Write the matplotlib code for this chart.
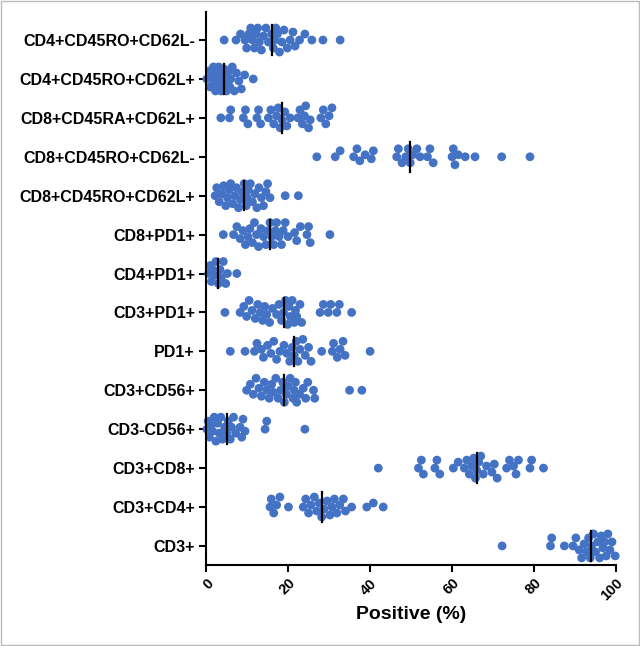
import matplotlib
import numpy as np

matplotlib.use("Agg")
import matplotlib.pyplot as plt
from matplotlib.patches import Rectangle


CATEGORIES = [
    "CD4+CD45RO+CD62L-",
    "CD4+CD45RO+CD62L+",
    "CD8+CD45RA+CD62L+",
    "CD8+CD45RO+CD62L-",
    "CD8+CD45RO+CD62L+",
    "CD8+PD1+",
    "CD4+PD1+",
    "CD3+PD1+",
    "PD1+",
    "CD3+CD56+",
    "CD3-CD56+",
    "CD3+CD8+",
    "CD3+CD4+",
    "CD3+",
]

cd4_ro_62l_neg = [4.4, 7.3, 8.4, 9.5, 9.9, 10.4, 10.9, 11.3, 11.8, 12.2, 12.6, 13.0, 13.5, 14.0, 14.6, 15.2,
                  16.0, 16.4, 16.8, 17.0, 17.4, 17.9, 18.5, 19.0, 19.8, 20.5, 21.2, 21.7, 22.8, 24.1, 25.8, 28.5, 32.7]
cd4_ro_62l_pos = [0.2, 0.8, 1.0, 1.5, 1.8, 2.0, 2.3, 2.6, 2.9, 3.1, 3.4, 3.7, 4.0, 4.2, 4.4,
                  4.7, 4.9, 5.0, 5.3, 5.6, 5.8, 6.0, 6.4, 6.9, 7.4, 8.0, 8.6, 9.4, 11.5]
cd8_ra_62l_pos = [3.6, 5.7, 6.0, 9.1, 9.6, 10.2, 12.4, 12.8, 13.3, 15.2, 15.8, 16.5, 17.2, 17.6, 18.1, 18.5,
                  19.2, 19.7, 20.5, 22.4, 22.9, 23.5, 24.0, 24.3, 25.0, 25.4, 28.0, 28.6, 29.2, 30.0, 30.7]
cd8_ro_62l_neg = [27.0, 31.5, 32.7, 36.0, 36.8, 37.5, 38.8, 40.3, 40.8, 46.5, 46.9, 47.8, 48.7, 49.3, 49.8,
                  50.4, 51.4, 52.2, 54.0, 54.6, 55.4, 60.0, 60.3, 60.7, 61.5, 63.2, 65.6, 72.1, 79.0]
cd8_ro_62l_pos = [2.2, 2.6, 3.2, 3.8, 4.3, 4.8, 5.2, 5.6, 6.0, 6.5, 7.0, 7.4, 7.9, 8.4, 8.8, 9.3,
                  9.8, 10.0, 10.3, 10.8, 11.3, 11.9, 12.4, 12.9, 13.5, 14.0, 14.6, 15.0, 15.6, 19.3, 22.5]
cd8_pd1 = [4.2, 6.7, 7.5, 8.3, 9.0, 9.6, 10.2, 10.7, 11.3, 11.8, 12.3, 12.8, 13.4, 14.0, 14.6, 15.1, 15.6,
           16.0, 16.5, 16.9, 17.2, 17.8, 18.4, 18.8, 19.3, 20.0, 21.6, 22.1, 23.0, 24.6, 25.0, 25.4, 30.2]
cd4_pd1 = [0.6, 1.0, 1.3, 1.6, 2.0, 2.4, 3.0, 3.4, 3.7, 4.2, 4.8, 5.2, 7.5]
cd3_pd1 = [4.6, 8.3, 9.2, 9.9, 10.5, 11.2, 12.0, 12.6, 13.2, 13.8, 14.3, 14.8, 15.5, 16.2, 17.2, 17.8, 18.4,
           18.9, 19.4, 19.9, 20.2, 20.5, 21.0, 21.5, 21.8, 22.1, 22.9, 23.3, 27.8, 28.6, 29.8, 30.4, 31.9,
           32.5, 35.5]
pd1 = [5.9, 9.5, 11.8, 12.4, 13.5, 14.0, 15.0, 15.8, 16.5, 17.2, 18.0, 19.0, 19.7, 20.4, 21.0, 21.5,
       22.0, 22.4, 22.9, 23.6, 24.2, 25.0, 25.6, 28.2, 30.8, 31.1, 32.0, 32.7, 33.4, 33.9, 40.0]
cd3_cd56 = [9.9, 10.8, 11.5, 12.2, 12.9, 13.5, 14.2, 14.8, 15.4, 16.0, 16.4, 17.0, 17.6, 18.2, 18.7, 19.1,
            19.6, 20.0, 20.5, 21.2, 21.5, 21.8, 22.1, 22.8, 23.7, 24.3, 24.8, 26.2, 26.5, 35.0, 38.0]
cd3neg_cd56 = [0.2, 0.5, 0.8, 1.2, 1.6, 2.0, 2.4, 2.8, 3.2, 3.6, 4.0, 4.5, 5.0,
               5.4, 5.9, 6.2, 6.7, 7.2, 8.3, 8.7, 9.0, 9.5, 14.4, 14.8, 24.1]
cd3_cd8 = [42.0, 51.8, 52.5, 53.0, 55.8, 56.3, 57.0, 60.3, 61.5, 63.0, 63.6, 64.2, 64.8, 65.3, 65.7, 66.0,
           66.5, 67.0, 67.6, 68.4, 69.7, 70.3, 71.0, 73.3, 74.0, 75.0, 75.6, 76.2, 79.0, 79.4, 82.3]
cd3_cd4 = [15.6, 15.9, 16.5, 17.2, 18.0, 20.1, 23.7, 24.3, 25.0, 25.6, 26.4, 27.0, 27.6, 28.2,
           28.8, 29.5, 30.2, 30.7, 31.3, 31.9, 32.6, 33.5, 34.0, 35.5, 39.2, 40.8, 43.2]
cd3 = [72.2, 84.0, 84.3, 87.4, 89.5, 90.2, 91.0, 91.6, 92.2, 92.8, 93.3, 93.7, 94.0,
       94.5, 95.0, 95.5, 96.0, 96.4, 96.8, 97.2, 97.6, 98.0, 98.5, 99.0, 99.8]

SERIES = [
    cd4_ro_62l_neg, cd4_ro_62l_pos, cd8_ra_62l_pos, cd8_ro_62l_neg, cd8_ro_62l_pos, cd8_pd1, cd4_pd1,
    cd3_pd1, pd1, cd3_cd56, cd3neg_cd56, cd3_cd8, cd3_cd4, cd3,
]

X_TICKS = [0, 20, 40, 60, 80, 100]

POINT_COLOR = "#4472C4"
PX_PER_X = 4.1    # pixels per x unit
PX_PER_Y = 38.9   # pixels per category row


def swarm_offsets(values, min_dist=7.0, step=2.0, max_off=12.0):
    """Simple beeswarm: place points in pixel space, return vertical offsets in data units."""
    placed = []
    offsets = []
    cands = [0.0]
    k = 1
    while k * step <= max_off:
        cands += [k * step, -k * step]
        k += 1
    for v in values:
        px = v * PX_PER_X
        best, best_d = 0.0, -1.0
        for c in cands:
            d = min((np.hypot(px - qx, c - qy) for qx, qy in placed), default=1e9)
            if d >= min_dist:
                best = c
                break
            if d > best_d:
                best, best_d = c, d
        placed.append((px, best))
        offsets.append(best / PX_PER_Y)
    return np.array(offsets)


def main() -> None:
    plt.rcParams["font.family"] = ["Liberation Sans", "DejaVu Sans"]
    plt.rcParams["font.weight"] = "bold"

    fig = plt.figure(figsize=(6.4, 6.46), dpi=100)
    fig.patches.append(Rectangle((0.002, 0.002), 0.996, 0.996, transform=fig.transFigure,
                                 fill=False, edgecolor="#BBBBBB", linewidth=1.0))
    ax = fig.add_axes([0.322, 0.1254, 0.6406, 0.856])

    n = len(CATEGORIES)
    for i, vals in enumerate(SERIES):
        y0 = n - 1 - i
        vals = np.asarray(vals)
        offs = swarm_offsets(vals)
        ax.scatter(vals, y0 + offs, s=40, color=POINT_COLOR, edgecolors="none", zorder=2, clip_on=False)
        med = np.median(vals)
        ax.plot([med, med], [y0 - 0.38, y0 + 0.38], color="black", linewidth=1.6, zorder=3)

    ax.set_xlim(0, 100)
    ax.set_ylim(-0.49, n - 1 + 0.72)
    ax.set_yticks(np.arange(n))
    ax.set_yticklabels(CATEGORIES[::-1], fontsize=11.5, fontweight="bold")
    ax.set_xticks(X_TICKS)
    ax.set_xticklabels([str(t) for t in X_TICKS], rotation=45, ha="right", rotation_mode="anchor",
                       fontsize=10.5, fontweight="bold")
    ax.set_xlabel("Positive (%)", fontsize=14, fontweight="bold", labelpad=2)

    for side in ("top", "right"):
        ax.spines[side].set_visible(False)
    for side in ("left", "bottom"):
        ax.spines[side].set_linewidth(1.5)
    ax.tick_params(axis="both", width=1.5, length=5, direction="out", pad=3)

    fig.savefig("out.png", dpi=100)
    plt.close(fig)


if __name__ == "__main__":
    main()
